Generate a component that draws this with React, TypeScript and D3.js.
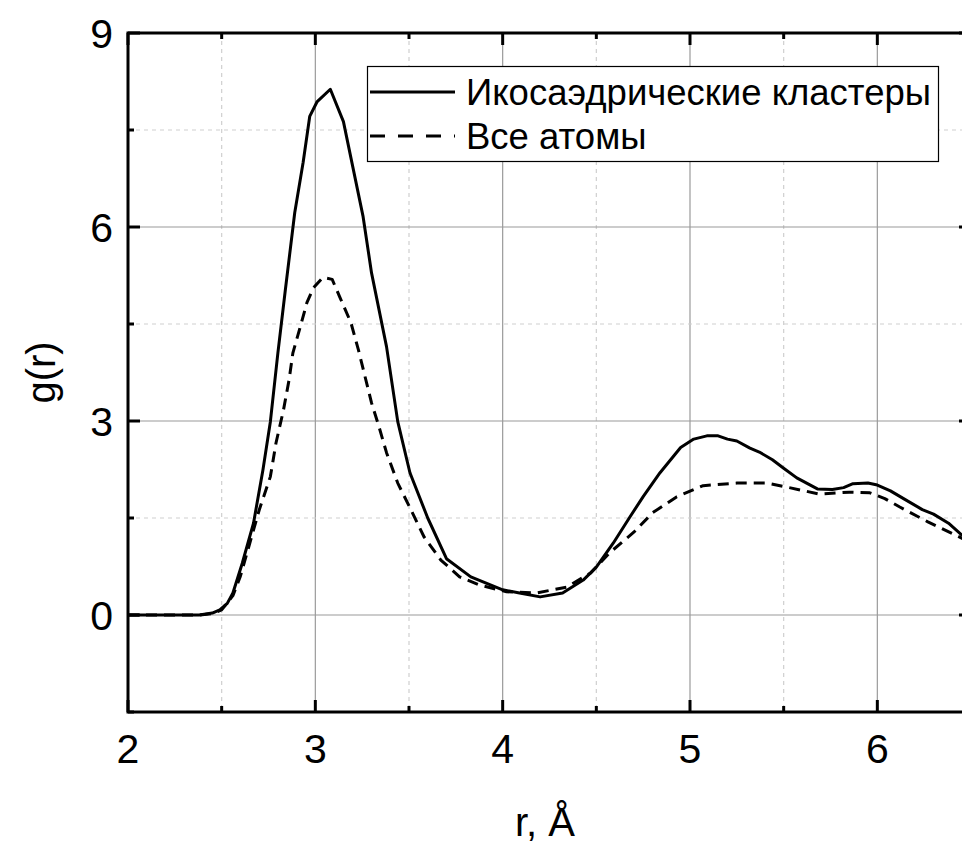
import React, { useEffect, useRef } from "react";
import * as d3 from "d3";

// r (Å) and g(r)
const rIco = [2.0, 2.2, 2.38, 2.45, 2.49, 2.53, 2.56, 2.61, 2.67, 2.72, 2.76, 2.8, 2.84, 2.89, 2.935, 2.97, 3.01, 3.08, 3.15, 3.2, 3.255, 3.3, 3.38, 3.44, 3.505, 3.6, 3.7, 3.83, 4.0, 4.09, 4.2, 4.32, 4.43, 4.5, 4.59, 4.68, 4.75, 4.84, 4.95, 5.02, 5.09, 5.15, 5.2, 5.25, 5.32, 5.37, 5.44, 5.5, 5.57, 5.68, 5.76, 5.82, 5.87, 5.95, 6.0, 6.07, 6.14, 6.24, 6.3, 6.38, 6.45, 6.5];
const gIco = [0, 0, 0.0, 0.03, 0.08, 0.18, 0.34, 0.8, 1.42, 2.24, 2.99, 4.05, 5.03, 6.22, 7.0, 7.71, 7.94, 8.13, 7.63, 6.93, 6.16, 5.29, 4.15, 2.99, 2.2, 1.5, 0.87, 0.59, 0.39, 0.34, 0.28, 0.34, 0.54, 0.74, 1.11, 1.52, 1.83, 2.2, 2.59, 2.72, 2.77, 2.77, 2.72, 2.69, 2.58, 2.52, 2.4, 2.27, 2.12, 1.95, 1.94, 1.97, 2.03, 2.04, 2.01, 1.92, 1.8, 1.63, 1.56, 1.42, 1.24, 1.15];

const rAll = [2.0, 2.2, 2.38, 2.45, 2.5, 2.56, 2.6, 2.65, 2.7, 2.76, 2.79, 2.83, 2.86, 2.88, 2.92, 2.955, 2.99, 3.04, 3.09, 3.13, 3.19, 3.23, 3.265, 3.3, 3.34, 3.38, 3.44, 3.51, 3.58, 3.67, 3.77, 3.88, 4.02, 4.18, 4.34, 4.47, 4.57, 4.7, 4.8, 4.93, 5.07, 5.25, 5.41, 5.53, 5.69, 5.85, 5.96, 6.04, 6.12, 6.27, 6.45, 6.5];
const gAll = [0, 0, 0.0, 0.02, 0.08, 0.3, 0.6, 1.11, 1.62, 2.14, 2.66, 3.17, 3.64, 4.05, 4.46, 4.83, 5.06, 5.22, 5.19, 4.92, 4.52, 4.1, 3.69, 3.28, 2.91, 2.51, 2.04, 1.63, 1.21, 0.85, 0.59, 0.46, 0.36, 0.34, 0.43, 0.65, 0.96, 1.28, 1.58, 1.83, 2.0, 2.04, 2.04, 1.97, 1.87, 1.9, 1.89, 1.8, 1.67, 1.44, 1.19, 1.12];

const xMajor = [2, 3, 4, 5, 6];
const xMinor = [2.5, 3.5, 4.5, 5.5, 6.5];
const yMajor = [0, 3, 6, 9];
const yMinor = [-1.5, 1.5, 4.5, 7.5];

const series = [
  { name: "Икосаэдрические кластеры", r: rIco, g: gIco, dash: null, legendDash: null },
  { name: "Все атомы", r: rAll, g: gAll, dash: "11,7", legendDash: "15,13" },
];

const FONT = "'Liberation Sans', Arial, sans-serif";

export default function App() {
  const ref = useRef<SVGSVGElement>(null);

  useEffect(() => {
    const svg = d3.select(ref.current);
    svg.selectAll("*").remove();

    const width = 962;
    const height = 843;
    const margin = { top: 33, left: 128 };
    const plotW = 843;
    const plotH = 679;

    const x = d3.scaleLinear().domain([2, 6.5]).range([margin.left, margin.left + plotW]);
    const y = d3.scaleLinear().domain([-1.5, 9]).range([margin.top + plotH, margin.top]);

    svg.attr("width", width).attr("height", height).attr("viewBox", `0 0 ${width} ${height}`);
    svg.append("rect").attr("width", width).attr("height", height).attr("fill", "#fff");

    // grid
    const grid = svg.append("g");
    grid.selectAll(".vmaj").data(xMajor.slice(1)).join("line")
      .attr("x1", d => x(d)).attr("x2", d => x(d))
      .attr("y1", y(9)).attr("y2", y(-1.5))
      .attr("stroke", "#9a9a9a").attr("stroke-width", 1.2);
    grid.selectAll(".vmin").data(xMinor.slice(0, 4)).join("line")
      .attr("x1", d => x(d)).attr("x2", d => x(d))
      .attr("y1", y(9)).attr("y2", y(-1.5))
      .attr("stroke", "#cfcfcf").attr("stroke-width", 1.2).attr("stroke-dasharray", "4,4");
    grid.selectAll(".hmaj").data(yMajor.slice(0, 3)).join("line")
      .attr("x1", x(2)).attr("x2", x(6.5))
      .attr("y1", d => y(d)).attr("y2", d => y(d))
      .attr("stroke", "#9a9a9a").attr("stroke-width", 1.2);
    grid.selectAll(".hmin").data(yMinor.slice(1)).join("line")
      .attr("x1", x(2)).attr("x2", x(6.5))
      .attr("y1", d => y(d)).attr("y2", d => y(d))
      .attr("stroke", "#cfcfcf").attr("stroke-width", 1.2).attr("stroke-dasharray", "4,4");

    // curves
    svg.append("clipPath").attr("id", "plotclip").append("rect")
      .attr("x", x(2)).attr("y", y(9)).attr("width", plotW).attr("height", plotH);
    const line = d3.line<[number, number]>().x(d => x(d[0])).y(d => y(d[1]));
    series.forEach(s => {
      const pts: [number, number][] = s.r.map((r, i) => [r, s.g[i]]);
      svg.append("path").datum(pts)
        .attr("clip-path", "url(#plotclip)")
        .attr("d", line)
        .attr("fill", "none").attr("stroke", "#000").attr("stroke-width", 3)
        .attr("stroke-linejoin", "round")
        .attr("stroke-dasharray", s.dash);
    });

    // frame and ticks
    const axes = svg.append("g").attr("stroke", "#000");
    const major = 12, minor = 6;
    xMajor.forEach(v => {
      axes.append("line").attr("x1", x(v)).attr("x2", x(v)).attr("y1", y(-1.5)).attr("y2", y(-1.5) - major).attr("stroke-width", 3);
      axes.append("line").attr("x1", x(v)).attr("x2", x(v)).attr("y1", y(9)).attr("y2", y(9) + major).attr("stroke-width", 3);
    });
    xMinor.forEach(v => {
      axes.append("line").attr("x1", x(v)).attr("x2", x(v)).attr("y1", y(-1.5)).attr("y2", y(-1.5) - minor).attr("stroke-width", 3);
      axes.append("line").attr("x1", x(v)).attr("x2", x(v)).attr("y1", y(9)).attr("y2", y(9) + minor).attr("stroke-width", 3);
    });
    yMajor.forEach(v => {
      axes.append("line").attr("x1", x(2)).attr("x2", x(2) + major).attr("y1", y(v)).attr("y2", y(v)).attr("stroke-width", 3);
      axes.append("line").attr("x1", x(6.5)).attr("x2", x(6.5) - major).attr("y1", y(v)).attr("y2", y(v)).attr("stroke-width", 3);
    });
    yMinor.forEach(v => {
      axes.append("line").attr("x1", x(2)).attr("x2", x(2) + minor).attr("y1", y(v)).attr("y2", y(v)).attr("stroke-width", 3);
      axes.append("line").attr("x1", x(6.5)).attr("x2", x(6.5) - minor).attr("y1", y(v)).attr("y2", y(v)).attr("stroke-width", 3);
    });
    axes.append("rect").attr("x", x(2)).attr("y", y(9)).attr("width", plotW).attr("height", plotH)
      .attr("fill", "none").attr("stroke-width", 3);

    // tick labels
    svg.append("g").selectAll("text").data(xMajor).join("text")
      .attr("x", d => x(d)).attr("y", y(-1.5) + 51)
      .attr("text-anchor", "middle").attr("font-family", FONT).attr("font-size", 41)
      .text(d => d);
    svg.append("g").selectAll("text").data(yMajor).join("text")
      .attr("x", x(2) - 15).attr("y", d => y(d) + 15)
      .attr("text-anchor", "end").attr("font-family", FONT).attr("font-size", 41)
      .text(d => d);

    // axis titles
    svg.append("text").attr("x", 545).attr("y", 836)
      .attr("text-anchor", "middle").attr("font-family", FONT).attr("font-size", 40)
      .text("r, Å");
    svg.append("text")
      .attr("transform", `translate(55,${margin.top + plotH / 2}) rotate(-90)`)
      .attr("text-anchor", "middle").attr("font-family", FONT).attr("font-size", 40)
      .text("g(r)");

    // legend
    const lg = svg.append("g");
    lg.append("rect").attr("x", 367.5).attr("y", 66.5).attr("width", 571).attr("height", 95)
      .attr("fill", "#fff").attr("stroke", "#000").attr("stroke-width", 1.2);
    series.forEach((s, i) => {
      const cy = 92 + i * 44;
      lg.append("line").attr("x1", 370).attr("x2", 455).attr("y1", cy).attr("y2", cy)
        .attr("stroke", "#000").attr("stroke-width", 3).attr("stroke-dasharray", s.legendDash);
      lg.append("text").attr("x", 466).attr("y", cy + 13)
        .attr("font-family", FONT).attr("font-size", 36.5)
        .text(s.name);
    });
  }, []);

  return <svg ref={ref} style={{ display: "block", position: "absolute", left: 0, top: 0 }} />;
}
